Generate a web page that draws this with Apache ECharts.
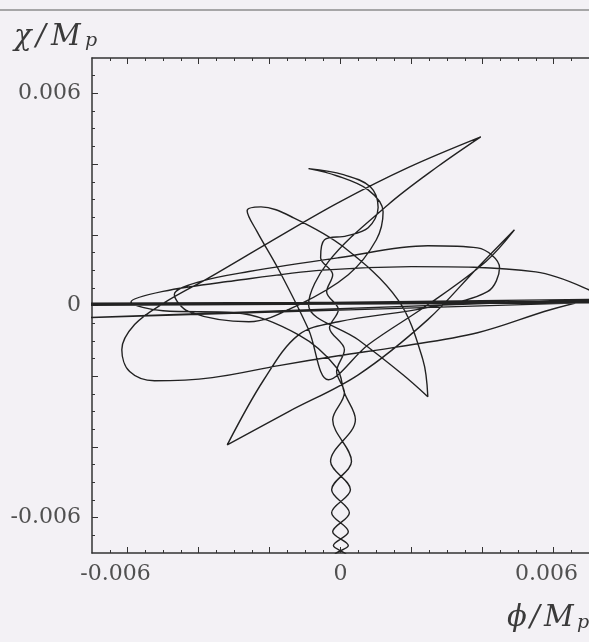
<!DOCTYPE html>
<html><head><meta charset="utf-8">
<script src="https://cdn.jsdelivr.net/npm/echarts@6/dist/echarts.min.js"></script>
<style>html,body{margin:0;padding:0;background:#f3f1f5;}#c{width:589px;height:642px;}</style>
</head><body><div id="c"></div>
<script>
// values are in units of 10^-3 (phi/M_p, chi/M_p)
const UNIT = 1e-3;
const bandPhi = [-7.6,7.6,-7.6,7.6,-7.6,7.6,-7.6,7.6,-7.6,7.6];
const bandChi = [0.02,0.12,0.06,0.08,0.0,0.18,-0.36,0.10,0.04,0.14];
const flatPhi = [5.5,2.0,-0.5,-3.0,-5.0,-5.9,-5.0,-3.0,-1.18,-0.11];
const flatChi = [0.95,1.1,1.0,0.7,0.4,0.1,-0.15,-0.2,-0.83,-1.76];
const strandDownPhi = [0.11,0.42,-0.28,0.28,-0.25,0.22,-0.20,0.17,0.0];
const strandDownChi = [-2.47,-3.23,-4.41,-5.21,-5.86,-6.40,-6.79,-7.07,-7.36];
const strandUpPhi = [-0.17,0.22,-0.22,0.25,-0.25,0.31,-0.22,0.11,-0.11,0.11,-0.31,-0.06,-0.39,-0.22,-0.56,-0.45];
const strandUpChi = [-7.07,-6.79,-6.40,-5.86,-5.21,-4.41,-3.23,-2.47,-1.87,-1.25,-0.63,-0.12,0.39,0.87,1.35,1.86];
const hookPhi = [0.17,0.78,1.06,0.84,0.08,-0.90,-0.11,0.78,1.20,1.01,0.22,-1.18,-2.58];
const hookChi = [1.97,2.20,2.77,3.36,3.70,3.87,3.67,3.27,2.65,1.86,0.87,0.02,-0.46];
const ovalPhi = [-4.26,-4.68,-3.98,-2.58,-0.06,2.46,3.86,4.48,4.14,2.46,-0.06,-1.18];
const ovalChi = [-0.18,0.31,0.67,0.96,1.35,1.69,1.63,1.07,0.39,-0.06,-0.46,-0.83];
const petalAPhi = [-2.16,-3.19,-1.46,0.50,2.46,3.86,4.90,4.09,2.46,0.78,-0.34];
const petalAChi = [-2.10,-3.94,-3.00,-1.96,-0.40,1.07,2.14,1.24,0.02,-1.11,-2.10];
const petalBPhi = [-0.90,-1.74,-2.35,-2.63,-2.24,-1.32,0.08,1.62,2.32,2.46,1.76,0.50,-0.90];
const petalBChi = [-0.68,1.01,2.09,2.68,2.79,2.48,1.66,0.16,-1.53,-2.58,-1.96,-0.97,0.02];
const spikePhi = [-0.34,1.34,2.74,3.95,1.90,-0.06,-2.02,-3.70,-4.96,-5.80,-6.16,-5.94,-5.24,-3.61,-1.74,-0.06,1.62,3.86,5.91,7.5];
const spikeChi = [1.24,2.85,3.93,4.77,3.90,2.91,1.78,0.79,0.08,-0.54,-1.25,-1.87,-2.13,-2.04,-1.70,-1.42,-1.17,-0.77,-0.12,0.28];

const xLabelValues = [-0.006, 0, 0.006];
const yLabelValues = [-0.006, 0, 0.006];
const majorTickValues = [-0.006,-0.004,-0.002,0,0.002,0.004,0.006];
const minorTickValues = [-0.0065,-0.006,-0.0055,-0.005,-0.0045,-0.004,-0.0035,-0.003,-0.0025,-0.002,-0.0015,-0.001,-0.0005,0,0.0005,0.001,0.0015,0.002,0.0025,0.003,0.0035,0.004,0.0045,0.005,0.0055,0.006,0.0065];

const phiAll = [].concat(bandPhi, flatPhi, strandDownPhi, strandUpPhi, hookPhi, ovalPhi, petalAPhi, petalBPhi, spikePhi);
const chiAll = [].concat(bandChi, flatChi, strandDownChi, strandUpChi, hookChi, ovalChi, petalAChi, petalBChi, spikeChi);
const trajectory = phiAll.map((p, i) => [p * UNIT, chiAll[i] * UNIT]);

const AX = '#333';
const FONT = 'DejaVu Serif';
const TXT = '#505050';
const fmtY = v => (Math.abs(v) < 1e-12 ? '0' : String(+v.toFixed(4)));
const fmtX = v => {
  if (Math.abs(v) < 1e-12) return '{z|0}';
  return v < 0 ? '{neg|' + String(+v.toFixed(4)) + '}' : '{pos|' + String(+v.toFixed(4)) + '}';
};
const richBase = {fontFamily:FONT, fontSize:22, color:TXT};
function majorAxis(pos, labels, isX) {
  const lab = labels ? {
    show:true, customValues:labels, fontFamily:FONT, fontSize:22, color:TXT,
    margin: isX ? 10 : 11,
    formatter: isX ? fmtX : fmtY,
    rich: isX ? {
      z: Object.assign({padding:[0,0,0,0]}, richBase),
      neg: Object.assign({padding:[0,24,0,0]}, richBase),
      pos: Object.assign({padding:[0,14,0,0]}, richBase)
    } : undefined
  } : {show:false};
  return {
    type:'value', position:pos, min:-0.007, max:0.007,
    axisLine:{show:true, onZero:false, lineStyle:{color:AX, width:1.5}},
    axisTick:{show:true, inside:true, length:6, customValues:majorTickValues, lineStyle:{color:AX, width:1}},
    axisLabel: lab,
    splitLine:{show:false}
  };
}
function minorAxis(pos) {
  return {
    type:'value', position:pos, min:-0.007, max:0.007,
    axisLine:{show:false, onZero:false},
    axisTick:{show:true, inside:true, length:3, customValues:minorTickValues, lineStyle:{color:AX, width:1}},
    axisLabel:{show:false}, splitLine:{show:false}
  };
}
const nameFont = 'italic 29px "DejaVu Serif"';
const subFont = 'italic 19px "DejaVu Serif"';

const chart = echarts.init(document.getElementById('c'));
chart.setOption({
  backgroundColor:'#f3f1f5',
  animation:false,
  grid:{left:92, top:58, width:500, height:495},
  xAxis:[majorAxis('bottom', xLabelValues, true), minorAxis('bottom'), majorAxis('top', null, true), minorAxis('top')],
  yAxis:[majorAxis('left', yLabelValues, false), minorAxis('left')],
  series:[{
    type:'line', xAxisIndex:0, yAxisIndex:0, data:trajectory,
    showSymbol:false, smooth:0.35, clip:true,
    lineStyle:{color:'#222', width:1.4}
  }],
  graphic:[
    {type:'line', shape:{x1:0, y1:10, x2:589, y2:10}, style:{stroke:'#8c8c8c', lineWidth:1.5}},
    {type:'text', left:14, top:23, style:{text:'χ', font:nameFont, fill:'#3a3a3a'}},
    {type:'text', left:36, top:23, style:{text:'/', font:nameFont, fill:'#3a3a3a'}},
    {type:'text', left:51, top:23, style:{text:'M', font:nameFont, fill:'#3a3a3a'}},
    {type:'text', left:85, top:32, style:{text:'p', font:subFont, fill:'#3a3a3a'}},
    {type:'text', left:507, top:604, style:{text:'ϕ', font:nameFont, fill:'#3a3a3a'}},
    {type:'text', left:530, top:604, style:{text:'/', font:nameFont, fill:'#3a3a3a'}},
    {type:'text', left:544, top:604, style:{text:'M', font:nameFont, fill:'#3a3a3a'}},
    {type:'text', left:577, top:614, style:{text:'p', font:subFont, fill:'#3a3a3a'}}
  ]
});
</script></body></html>
